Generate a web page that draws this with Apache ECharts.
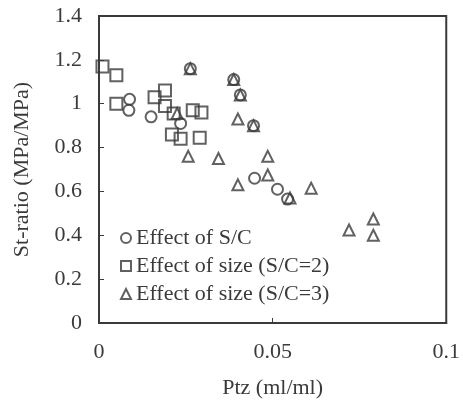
<!DOCTYPE html>
<html>
<head>
<meta charset="utf-8">
<script src="https://cdn.jsdelivr.net/npm/echarts@6/dist/echarts.min.js"></script>
<style>
html,body{margin:0;padding:0;background:#fff;}
#chart{width:463px;height:413px;}
</style>
</head>
<body>
<div id="chart"></div>
<script>
// Ptz (ml/ml) vs St-ratio (MPa/MPa)
const effectSC = [
    [0.0088, 1.02], [0.0086, 0.97], [0.015, 0.94], [0.0235, 0.91],
    [0.0263, 1.16], [0.0388, 1.11], [0.0407, 1.04], [0.0445, 0.90],
    [0.0448, 0.66], [0.0514, 0.61], [0.0543, 0.565]
];
const effectSize2 = [
    [0.001, 1.17], [0.005, 1.13], [0.005, 1.00], [0.016, 1.03],
    [0.019, 1.06], [0.019, 0.99], [0.0215, 0.955], [0.027, 0.97],
    [0.0295, 0.96], [0.021, 0.86], [0.0235, 0.84], [0.029, 0.845]
];
const effectSize3 = [
    [0.0225, 0.955], [0.0263, 1.16], [0.0388, 1.11], [0.0407, 1.04],
    [0.0445, 0.90], [0.040, 0.93], [0.0257, 0.76], [0.0344, 0.75],
    [0.0486, 0.76], [0.040, 0.63], [0.0486, 0.675], [0.055, 0.57],
    [0.0611, 0.615], [0.072, 0.424], [0.079, 0.474], [0.079, 0.40]
];
const seriesNames = ['Effect of S/C', 'Effect of size (S/C=2)', 'Effect of size (S/C=3)'];

const ink = '#3a3a3a';
const font = 'Liberation Serif';

function markStyle() {
    return {color: 'rgba(0,0,0,0)', borderColor: ink, borderWidth: 2};
}

let chart = echarts.init(document.getElementById('chart'));
let option = {
    animation: false,
    grid: {
        left: 99, top: 16, right: 12, bottom: 90,
        show: true, borderColor: ink, borderWidth: 2
    },
    legend: {
        orient: 'vertical',
        left: 115, top: 222,
        itemWidth: 10, itemHeight: 10,
        itemGap: 6, itemTextGap: 10,
        textStyle: {fontFamily: font, fontSize: 22, color: ink, lineHeight: 22},
        data: [
            {name: seriesNames[0], icon: 'circle', itemStyle: markStyle()},
            {name: seriesNames[1], icon: 'rect', itemStyle: markStyle()},
            {name: seriesNames[2], icon: 'triangle', itemStyle: markStyle()}
        ]
    },
    xAxis: {
        type: 'value', min: 0, max: 0.1, interval: 0.05,
        name: 'Ptz (ml/ml)', nameLocation: 'middle', nameGap: 54,
        nameTextStyle: {fontFamily: font, fontSize: 22, color: ink},
        axisLine: {lineStyle: {color: ink, width: 2}},
        axisTick: {inside: true, length: 5, lineStyle: {color: ink}},
        axisLabel: {fontFamily: font, fontSize: 22, color: ink, margin: 18},
        splitLine: {show: false}
    },
    yAxis: {
        type: 'value', min: 0, max: 1.4, interval: 0.2,
        name: 'St-ratio (MPa/MPa)', nameLocation: 'middle', nameGap: 66,
        nameTextStyle: {fontFamily: font, fontSize: 22, color: ink},
        axisLine: {lineStyle: {color: ink, width: 2}},
        axisTick: {inside: true, length: 5, lineStyle: {color: ink}},
        axisLabel: {fontFamily: font, fontSize: 22, color: ink, margin: 17},
        splitLine: {show: false}
    },
    series: [
        {name: seriesNames[0], type: 'scatter', symbol: 'circle', symbolSize: 11, data: effectSC, itemStyle: markStyle()},
        {name: seriesNames[1], type: 'scatter', symbol: 'rect', symbolSize: 12, data: effectSize2, itemStyle: markStyle()},
        {name: seriesNames[2], type: 'scatter', symbol: 'triangle', symbolSize: 11, data: effectSize3, itemStyle: markStyle()}
    ]
};
chart.setOption(option, true);
</script>
</body>
</html>
